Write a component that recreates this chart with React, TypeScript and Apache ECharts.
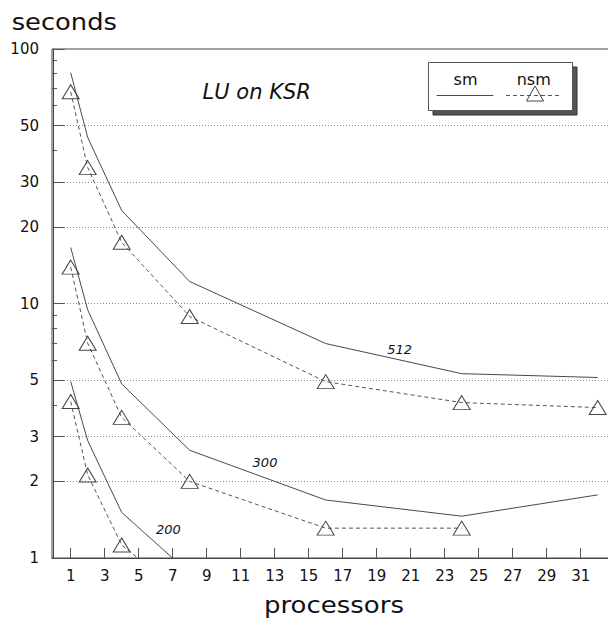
import React, { useEffect, useRef } from "react";
import * as echarts from "echarts";

const procs = [1, 2, 4, 8, 16, 24, 32];
const sm512 = [80.7, 44.9, 23.2, 12.2, 6.96, 5.3, 5.12];
const nsm512 = [67.9, 34.2, 17.4, 8.89, 4.93, 4.08, 3.9];
const sm300 = [16.6, 9.44, 4.83, 2.65, 1.69, 1.46, 1.77];
const nsm300 = [13.9, 6.98, 3.57, 2.0, 1.31, 1.31];
const sm200 = [4.94, 2.89, 1.51, 0.87];
const nsm200 = [4.12, 2.12, 1.125, 0.68];

const xTickLabels = [1, 3, 5, 7, 9, 11, 13, 15, 17, 19, 21, 23, 25, 27, 29, 31];
const yTickLabels = [1, 2, 3, 5, 10, 20, 30, 50, 100];
const yMinorTicks = [4, 6, 7, 8, 9, 40, 60, 70, 80, 90];
const yGridValues = [2, 3, 5, 10, 20, 30, 50];

const FONT = "DejaVu Sans";
const AXIS = "#444";
const LINE = "#4a4a4a";

const pair = (vals: number[]) => vals.map((v, i) => [procs[i], v]);

export default function App() {
  const ref = useRef<HTMLDivElement>(null);
  useEffect(() => {
    if (!ref.current) return;
    const chart = echarts.init(ref.current, undefined, { renderer: "svg" });
    const yBase = {
      type: "log" as const,
      logBase: 10,
      min: 1,
      max: 100,
      position: "left" as const,
      gridIndex: 0,
    };
    const smStyle = (name: string, vals: number[]) => ({
      name,
      type: "line",
      data: pair(vals),
      symbol: "none",
      lineStyle: { color: LINE, width: 1, type: "solid" },
      itemStyle: { color: LINE },
      clip: true,
      z: 3,
    });
    const nsmStyle = (name: string, vals: number[]) => ({
      name,
      type: "line",
      data: pair(vals),
      symbol: "triangle",
      symbolSize: [17, 14],
      showSymbol: true,
      lineStyle: { color: "#555", width: 1, type: [4, 3] },
      itemStyle: { color: "rgba(0,0,0,0)", borderColor: "#444", borderWidth: 1 },
      clip: true,
      z: 3,
    });
    chart.setOption({
      animation: false,
      backgroundColor: "#fff",
      textStyle: { fontFamily: FONT },
      grid: {
        left: 52,
        top: 49,
        width: 562.7,
        height: 509,
        show: true,
        borderColor: AXIS,
        borderWidth: 1,
        backgroundColor: "transparent",
        containLabel: false,
        outerBoundsMode: "none",
      },
      xAxis: {
        type: "value",
        min: -0.1,
        max: 33,
        axisLine: { show: true, lineStyle: { color: AXIS, width: 1 } },
        axisTick: {
          show: true,
          inside: true,
          length: 10,
          customValues: xTickLabels,
          lineStyle: { color: "#555" },
        },
        axisLabel: {
          customValues: xTickLabels,
          fontSize: 15,
          fontFamily: FONT,
          color: "#111",
          margin: 10,
        },
        splitLine: { show: false },
      },
      yAxis: [
        {
          ...yBase,
          axisLine: { show: true, lineStyle: { color: AXIS, width: 1 } },
          axisTick: {
            show: true,
            inside: true,
            length: 11,
            customValues: yTickLabels,
            lineStyle: { color: "#555" },
          },
          axisLabel: {
            customValues: yTickLabels,
            fontSize: 15,
            fontFamily: FONT,
            color: "#111",
            margin: 13,
          },
          splitLine: { show: false },
        },
        {
          ...yBase,
          axisLine: { show: false },
          axisTick: {
            show: true,
            inside: true,
            length: 5,
            customValues: yMinorTicks,
            lineStyle: { color: "#555" },
          },
          axisLabel: { show: false },
          splitLine: { show: false },
        },
        {
          ...yBase,
          axisLine: { show: false },
          axisTick: { show: false, customValues: yGridValues },
          axisLabel: { show: false },
          splitLine: {
            show: true,
            lineStyle: { color: "#8a8a8a", width: 1, type: [1, 2] },
          },
        },
      ],
      series: [
        smStyle("512 sm", sm512),
        nsmStyle("512 nsm", nsm512),
        smStyle("300 sm", sm300),
        nsmStyle("300 nsm", nsm300),
        smStyle("200 sm", sm200),
        nsmStyle("200 nsm", nsm200),
      ],
      graphic: [
        {
          type: "text",
          x: 11.7,
          y: 22,
          scaleX: 1.12,
          style: {
            text: "seconds",
            font: `23px "${FONT}"`,
            fill: "#111",
            align: "left",
            verticalAlign: "middle",
          },
        },
        {
          type: "text",
          x: 334,
          y: 605,
          scaleX: 1.13,
          style: {
            text: "processors",
            font: `23px "${FONT}"`,
            fill: "#111",
            align: "center",
            verticalAlign: "middle",
          },
        },
        {
          type: "text",
          x: 256.7,
          y: 92,
          style: {
            text: "LU on KSR",
            font: `italic 21px "${FONT}"`,
            fill: "#111",
            align: "center",
            verticalAlign: "middle",
          },
        },
        {
          type: "text",
          x: 399.7,
          y: 349,
          style: {
            text: "512",
            font: `italic 13px "${FONT}"`,
            fill: "#111",
            align: "center",
            verticalAlign: "middle",
          },
        },
        {
          type: "text",
          x: 265,
          y: 462.5,
          style: {
            text: "300",
            font: `italic 13px "${FONT}"`,
            fill: "#111",
            align: "center",
            verticalAlign: "middle",
          },
        },
        {
          type: "text",
          x: 168.3,
          y: 529,
          style: {
            text: "200",
            font: `italic 13px "${FONT}"`,
            fill: "#111",
            align: "center",
            verticalAlign: "middle",
          },
        },
        {
          type: "group",
          z: 10,
          children: [
            {
              type: "rect",
              shape: { x: 433, y: 67, width: 144, height: 48 },
              style: { fill: "#555", stroke: "#333", lineWidth: 1 },
            },
            {
              type: "rect",
              shape: { x: 428.5, y: 62.5, width: 144, height: 48 },
              style: { fill: "#fff", stroke: "#555", lineWidth: 1 },
            },
            {
              type: "text",
              x: 465.5,
              y: 79,
              style: {
                text: "sm",
                font: `16px "${FONT}"`,
                fill: "#111",
                align: "center",
                verticalAlign: "middle",
              },
            },
            {
              type: "text",
              x: 533.7,
              y: 79,
              style: {
                text: "nsm",
                font: `16px "${FONT}"`,
                fill: "#111",
                align: "center",
                verticalAlign: "middle",
              },
            },
            {
              type: "line",
              shape: { x1: 436.7, y1: 95.5, x2: 493.3, y2: 95.5 },
              style: { stroke: LINE, lineWidth: 1 },
            },
            {
              type: "line",
              shape: { x1: 506, y1: 95.5, x2: 561, y2: 95.5 },
              style: { stroke: "#555", lineWidth: 1, lineDash: [4, 3] },
            },
            {
              type: "polygon",
              shape: {
                points: [
                  [535, 86],
                  [526.5, 101],
                  [543.5, 101],
                ],
              },
              style: { fill: "rgba(0,0,0,0)", stroke: "#444", lineWidth: 1 },
            },
          ],
        },
      ],
    });
    return () => chart.dispose();
  }, []);
  return (
    <div
      ref={ref}
      style={{ position: "fixed", left: 0, top: 0, width: 608, height: 627 }}
    />
  );
}
